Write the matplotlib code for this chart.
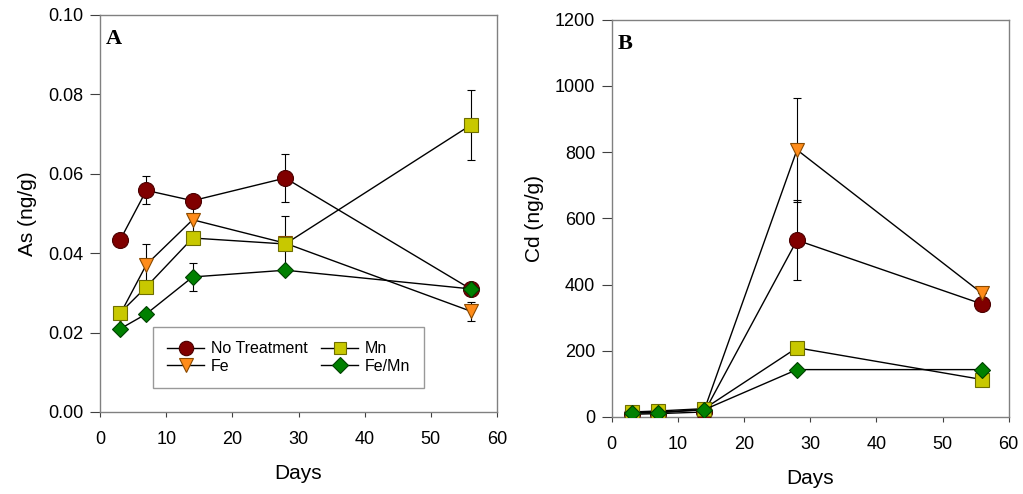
import numpy as np
import matplotlib.pyplot as plt

plt.rcParams['font.family'] = ['Liberation Sans', 'DejaVu Sans']

# Data
days = [3, 7, 14, 28, 56]
series = ['No Treatment', 'Fe', 'Mn', 'Fe/Mn']

as_nt = [0.0432, 0.0558, 0.0532, 0.0589, 0.0310]
as_fe = [0.0245, 0.0371, 0.0484, 0.0425, 0.0254]
as_mn = [0.0249, 0.0315, 0.0438, 0.0423, 0.0722]
as_femn = [0.0209, 0.0247, 0.0340, 0.0357, 0.0310]

as_nt_err = [0, 0.0035, 0.0008, 0.0060, 0.0005]
as_fe_err = [0, 0.0052, 0.0042, 0, 0.0024]
as_mn_err = [0, 0, 0, 0.0071, 0.0088]
as_femn_err = [0, 0, 0.0036, 0, 0]

cd_nt = [8, 10, 15, 534, 341]
cd_fe = [12, 14, 22, 807, 373]
cd_mn = [15, 18, 25, 209, 113]
cd_femn = [12, 13, 22, 143, 143]

cd_nt_err = [0, 0, 0, 121, 0]
cd_fe_err = [0, 0, 0, 157, 0]
cd_mn_err = [0, 0, 0, 0, 0]
cd_femn_err = [0, 0, 0, 0, 0]

colors = ['#800000', '#ff8c1a', '#c8c800', '#008000']
edges = ['#4a0000', '#8a4a00', '#6e6e00', '#004000']
markers = ['o', 'v', 's', 'D']
msizes = [11.5, 10.5, 9.5, 8.5]

fig = plt.figure(figsize=(10.23, 4.94), dpi=100)
axA = fig.add_axes([0.0978, 0.166, 0.388, 0.804])
axB = fig.add_axes([0.598, 0.156, 0.388, 0.804])


def draw(ax, vals, errs):
    handles = []
    for i in range(4):
        ax.errorbar(days, vals[i], yerr=errs[i], fmt='none', ecolor='black',
                    elinewidth=0.8, capsize=3, capthick=0.8, zorder=2)
    for i in range(4):
        h, = ax.plot(days, vals[i], color='black', lw=1.0, marker=markers[i],
                     markersize=msizes[i], markerfacecolor=colors[i],
                     markeredgecolor=edges[i], markeredgewidth=0.8,
                     label=series[i], zorder=3 + i)
        handles.append(h)
    ax.set_xlim(0, 60)
    ax.set_xticks(range(0, 61, 10))
    for s in ax.spines.values():
        s.set_color('#808080')
        s.set_linewidth(1.0)
    ax.tick_params(axis='x', direction='out', length=3.5, pad=10,
                   color='#404040', labelsize=13, top=False)
    ax.tick_params(axis='y', direction='out', length=7, pad=5,
                   color='#404040', labelsize=13, right=False)
    ax.set_xlabel('Days', fontsize=15, labelpad=12)
    return handles


hA = draw(axA, [as_nt, as_fe, as_mn, as_femn],
          [as_nt_err, as_fe_err, as_mn_err, as_femn_err])
axA.set_ylim(0, 0.10)
axA.set_yticks(np.arange(0, 0.101, 0.02))
axA.set_yticklabels(['0.00', '0.02', '0.04', '0.06', '0.08', '0.10'])
axA.set_ylabel('As (ng/g)', fontsize=15, labelpad=8)
axA.text(0.015, 0.965, 'A', transform=axA.transAxes, fontsize=16,
         fontweight='bold', family='Liberation Serif', va='top')

leg = axA.legend(hA, series, ncol=2, loc='lower left',
                 bbox_to_anchor=(0.1335, 0.06, 0.683, 0.146), mode='expand',
                 borderaxespad=0, fontsize=11.5, frameon=True, fancybox=False,
                 edgecolor='#808080', handlelength=2.3, handletextpad=0.4,
                 labelspacing=0.15, borderpad=0.9, columnspacing=1.0,
                 markerscale=0.9)
leg.get_frame().set_linewidth(1.0)

draw(axB, [cd_nt, cd_fe, cd_mn, cd_femn],
     [cd_nt_err, cd_fe_err, cd_mn_err, cd_femn_err])
axB.set_ylim(0, 1200)
axB.set_yticks(range(0, 1201, 200))
axB.set_ylabel('Cd (ng/g)', fontsize=15, labelpad=8)
axB.text(0.015, 0.965, 'B', transform=axB.transAxes, fontsize=16,
         fontweight='bold', family='Liberation Serif', va='top')

fig.savefig('out.png', dpi=100)
